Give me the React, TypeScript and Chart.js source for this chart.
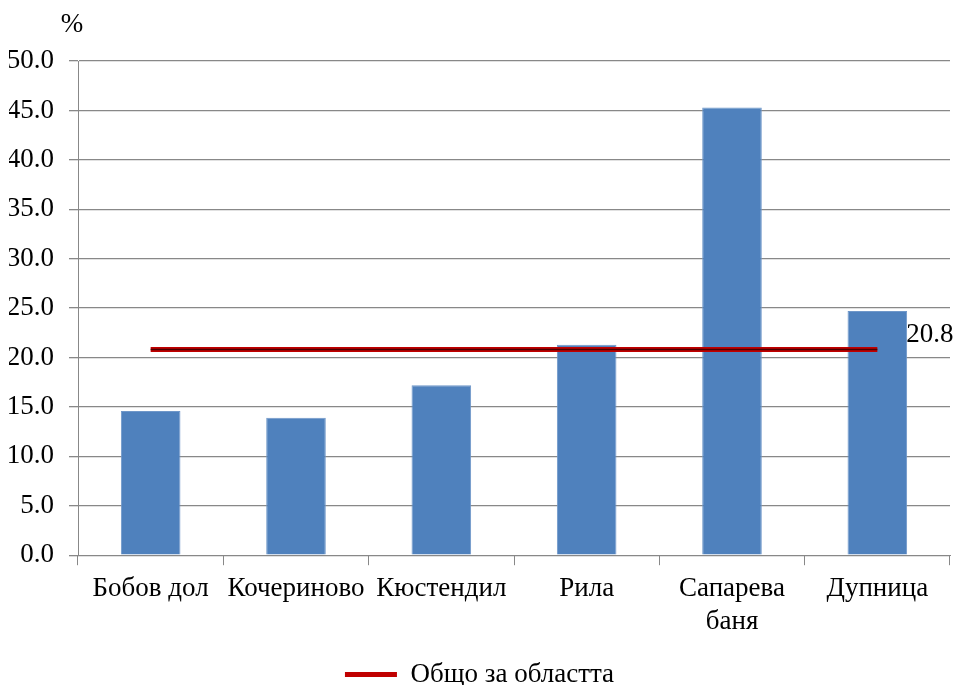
import React, { useEffect, useRef } from "react";
import { Chart, registerables } from "chart.js";

Chart.register(...registerables);

const categories: (string | string[])[] = [
  "Бобов дол",
  "Кочериново",
  "Кюстендил",
  "Рила",
  ["Сапарева", "баня"],
  "Дупница",
];
const municipalityValues = [14.6, 13.9, 17.2, 21.3, 45.3, 24.7];
const regionValues = [20.8, 20.8, 20.8, 20.8, 20.8, 20.8];
const regionLabel = "Общо за областта";
const regionValueLabel = "20.8";
const unitLabel = "%";
const yMin = 0;
const yMax = 50;
const yStep = 5;

const FONT = "'Liberation Serif', 'Times New Roman', serif";
const FS = 27;

export default function App() {
  const ref = useRef<HTMLCanvasElement | null>(null);

  useEffect(() => {
    if (!ref.current) return;
    const extras = {
      id: "extras",
      afterDatasetsDraw(chart: any) {
        const ctx = chart.ctx;
        const area = chart.chartArea;
        ctx.save();
        ctx.fillStyle = "#000";
        ctx.font = `${FS}px ${FONT}`;
        ctx.textAlign = "center";
        ctx.textBaseline = "middle";
        ctx.fillText(unitLabel, area.left - 6, area.top - 36);
        const meta = chart.getDatasetMeta(1);
        const last = meta.data[meta.data.length - 1];
        if (last) {
          ctx.textAlign = "left";
          ctx.fillText(regionValueLabel, last.x + 29, last.y - 15);
        }
        ctx.restore();
      },
    };
    const chart = new Chart(ref.current, {
      type: "bar",
      data: {
        labels: categories,
        datasets: [
          {
            type: "bar",
            label: "Община",
            data: municipalityValues,
            backgroundColor: "#4f81bd",
            borderColor: "#6f97c9",
            borderWidth: 1,
            barPercentage: 0.41,
            categoryPercentage: 1,
            order: 2,
          },
          {
            type: "line",
            label: regionLabel,
            data: regionValues,
            borderColor: "#c00000",
            backgroundColor: "#c00000",
            borderWidth: 5,
            pointRadius: 0,
            order: 1,
          },
          {
            type: "line",
            label: "core",
            data: regionValues,
            borderColor: "#4a0000",
            backgroundColor: "#4a0000",
            borderWidth: 1.5,
            pointRadius: 0,
            order: 0,
          },
        ],
      } as any,
      options: {
        animation: false,
        responsive: true,
        maintainAspectRatio: false,
        layout: { padding: { left: 9, right: 10, top: 61, bottom: -13 } },
        plugins: {
          tooltip: { enabled: false },
          legend: {
            position: "bottom",
            labels: {
              font: { family: FONT, size: FS },
              color: "#000",
              boxWidth: 52,
              boxHeight: 5,
              padding: 0,
              generateLabels: () => [
                {
                  text: regionLabel,
                  fillStyle: "#c00000",
                  strokeStyle: "#c00000",
                  lineWidth: 0,
                  hidden: false,
                  datasetIndex: 1,
                } as any,
              ],
            },
          },
        },
        scales: {
          x: {
            grid: {
              drawOnChartArea: false,
              drawTicks: true,
              tickLength: 10,
              color: "#888",
              offset: true,
            },
            border: { color: "#888", width: 1 },
            ticks: {
              font: { family: FONT, size: FS },
              color: "#000",
              maxRotation: 0,
              minRotation: 0,
              autoSkip: false,
              padding: 8,
            },
            afterFit: (s: any) => {
              s.height += 15;
            },
          },
          y: {
            min: yMin,
            max: yMax,
            grid: { color: "#888", tickLength: 9, lineWidth: 1.3 },
            border: { color: "#888", width: 1 },
            ticks: {
              stepSize: yStep,
              font: { family: FONT, size: FS },
              color: "#000",
              padding: 15,
              callback: (v: any) => Number(v).toFixed(1),
            },
            afterFit: (s: any) => {
              s.width = 69;
            },
          },
        },
      },
      plugins: [extras],
    });
    return () => chart.destroy();
  }, []);

  return (
    <div style={{ position: "fixed", left: 0, top: 0, width: 960, height: 685, background: "#fff" }}>
      <canvas ref={ref} />
    </div>
  );
}
